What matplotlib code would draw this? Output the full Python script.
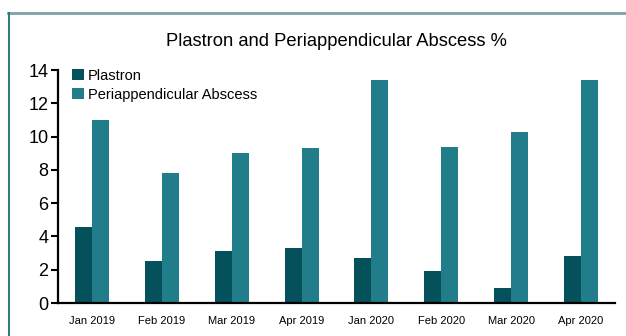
import numpy as np
import matplotlib.pyplot as plt
from matplotlib.lines import Line2D

plt.rcParams['font.family'] = ['Liberation Sans', 'DejaVu Sans']

months = ['Jan 2019', 'Feb 2019', 'Mar 2019', 'Apr 2019',
          'Jan 2020', 'Feb 2020', 'Mar 2020', 'Apr 2020']
plastron = [4.6, 2.5, 3.1, 3.3, 2.7, 1.9, 0.9, 2.8]
periappendicular = [11.0, 7.8, 9.0, 9.3, 13.4, 9.4, 10.3, 13.4]

dark_teal = '#04505b'
teal = '#217d89'

fig = plt.figure(figsize=(6.26, 3.36), dpi=100)
ax = fig.add_axes([0.0927, 0.098, 0.8898, 0.6935])

x = np.arange(len(months))
w = 0.243
ax.bar(x - w / 2, plastron, width=w, color=dark_teal, label='Plastron')
ax.bar(x + w / 2, periappendicular, width=w, color=teal,
       label='Periappendicular Abscess')

ax.set_xlim(-0.49, len(months) - 0.51)
ax.set_ylim(0, 14)
ax.set_yticks(range(0, 15, 2))
ax.set_xticks(x)
ax.set_xticklabels(months, fontsize=8)
ax.tick_params(axis='x', length=0, pad=9)
ax.tick_params(axis='y', length=5, width=1.5, labelsize=13, pad=2)

for side in ['top', 'right']:
    ax.spines[side].set_visible(False)
for side in ['left', 'bottom']:
    ax.spines[side].set_linewidth(1.6)

ax.set_title('Plastron and Periappendicular Abscess %', fontsize=13.2, pad=17)

ax.legend(loc='upper left', bbox_to_anchor=(0.006, 1.05), frameon=False,
          fontsize=10.5, handlelength=0.85, handleheight=0.85,
          handletextpad=0.25, labelspacing=0.35, borderaxespad=0.3)

# panel frame: top and left edges
fig.add_artist(Line2D([8 / 626, 1.0], [1 - 13 / 336, 1 - 13 / 336],
                      transform=fig.transFigure, color='#7aa3a5', lw=2))
fig.add_artist(Line2D([8.5 / 626, 8.5 / 626], [0, 1 - 13 / 336],
                      transform=fig.transFigure, color='#2f7b80', lw=1.5))

fig.savefig('out.png', dpi=100, facecolor='white')
